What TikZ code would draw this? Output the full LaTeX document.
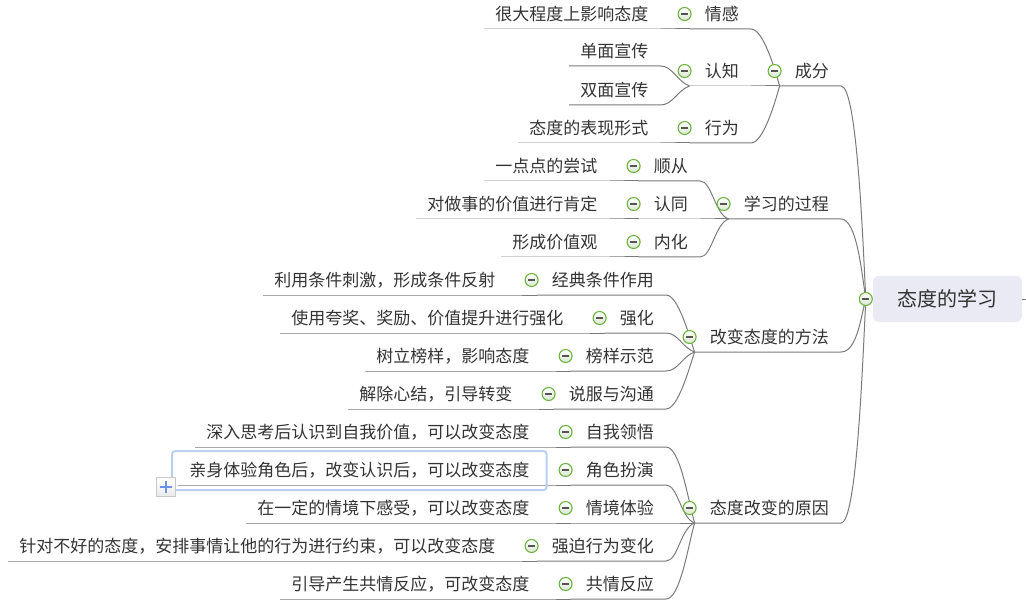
\documentclass[tikz,border=0pt]{standalone}
\usepackage{fontspec}
\newfontfamily\cjk{Noto Sans CJK SC}
\usetikzlibrary{calc}
\definecolor{txtc}{HTML}{333333}
\definecolor{linec}{HTML}{7A7A7A}
\definecolor{icong}{HTML}{6DB33F}
\definecolor{iconfill}{HTML}{DCE8D2}
\definecolor{minusc}{HTML}{555555}
\definecolor{rootfill}{HTML}{E9EAF3}
\definecolor{selc}{HTML}{BACFF0}
\definecolor{plusc}{HTML}{6F90E8}
\definecolor{plusborder}{HTML}{C8C8C8}
\newcommand\mmtopic[3]{%
  \node[txt] (#1) at (#2) {#3};
  \coordinate (#1-e) at ($(#1.east)+(12,15)$);
  \coordinate (#1-j) at ($(#1.west)+(-15,15)$);
  \coordinate (#1-c) at ($(#1.west)+(-20,0)$);
}
\newcommand\mmleaf[3]{%
  \node[txt] (#1) at (#2) {#3};
  \coordinate (#1-e) at ($(#1.east)+(12,15)$);
  \coordinate (#1-s) at ($(#1.west)+(-11,15)$);
}
\begin{document}
\begin{tikzpicture}[x=1bp,y=-1bp,
  txt/.style={font=\cjk\fontsize{17bp}{20bp}\selectfont, text=txtc, inner sep=0pt,
    text height=15bp, text depth=2bp, anchor=east},
  roottxt/.style={font=\cjk\fontsize{20bp}{24bp}\selectfont, text=txtc, fill=rootfill,
    rounded corners=6bp, minimum width=149bp, minimum height=46bp, inner sep=0pt,
    text height=17.6bp, text depth=2.4bp},
  br/.style={draw=linec, line width=1bp},
  icon/.style={circle, minimum size=13bp, inner sep=0pt, draw=icong, line width=1.1bp,
    top color=white, bottom color=iconfill,
    path picture={\draw[minusc, line width=1.1bp]
      ($(path picture bounding box.center)+(-3.5,0)$) -- ($(path picture bounding box.center)+(3.5,0)$);}},
  sel/.style={draw=selc, line width=2bp, rounded corners=3bp},
  plusbox/.style={rectangle, minimum size=19bp, inner sep=0pt, draw=plusborder, line width=1bp,
    top color=white, bottom color=black!8,
    path picture={\draw[plusc, line width=2.2bp]
      ($(path picture bounding box.center)+(-6,0)$) -- ($(path picture bounding box.center)+(6,0)$)
      ($(path picture bounding box.center)+(0,-6)$) -- ($(path picture bounding box.center)+(0,6)$);}},
]
\useasboundingbox (0,0) rectangle (1026,609);

% root
\node[roottxt] (R) at (947.5,299) {态度的学习};
\coordinate (R-j) at ($(R.west)+(-7,0)$);
\coordinate (R-stub) at ($(R.east)+(4,0)$);

% level 1
\mmtopic{A}{829,71}{成分}
\mmtopic{B}{829,204}{学习的过程}
\mmtopic{C}{829,337}{改变态度的方法}
\mmtopic{D}{829,508}{态度改变的原因}

% level 2
\mmtopic{A1}{739,14}{情感}
\mmtopic{A2}{739,71}{认知}
\mmtopic{A3}{739,128}{行为}
\mmtopic{B1}{688,166}{顺从}
\mmtopic{B2}{688,204}{认同}
\mmtopic{B3}{688,242}{内化}
\mmtopic{C1}{654,280}{经典条件作用}
\mmtopic{C2}{654,318}{强化}
\mmtopic{C3}{654,356}{榜样示范}
\mmtopic{C4}{654,394}{说服与沟通}
\mmtopic{D1}{654,432}{自我领悟}
\mmtopic{D2}{654,470}{角色扮演}
\mmtopic{D3}{654,508}{情境体验}
\mmtopic{D4}{654,546}{强迫行为变化}
\mmtopic{D5}{654,584}{共情反应}

% leaves
\mmleaf{A1L}{$(A1.west)+(-56,0)$}{很大程度上影响态度}
\mmleaf{A2La}{$(A2.west)+(-56,-20)$}{单面宣传}
\mmleaf{A2Lb}{$(A2.west)+(-56,19)$}{双面宣传}
\mmleaf{A3L}{$(A3.west)+(-56,0)$}{态度的表现形式}
\mmleaf{B1L}{$(B1.west)+(-56,0)$}{一点点的尝试}
\mmleaf{B2L}{$(B2.west)+(-56,0)$}{对做事的价值进行肯定}
\mmleaf{B3L}{$(B3.west)+(-56,0)$}{形成价值观}
\mmleaf{C1L}{$(C1.west)+(-56,0)$}{利用条件刺激，形成条件反射}
\mmleaf{C2L}{$(C2.west)+(-56,0)$}{使用夸奖、奖励、价值提升进行强化}
\mmleaf{C3L}{$(C3.west)+(-56,0)$}{树立榜样，影响态度}
\mmleaf{C4L}{$(C4.west)+(-56,0)$}{解除心结，引导转变}
\mmleaf{D1L}{$(D1.west)+(-56,0)$}{深入思考后认识到自我价值，可以改变态度}
\mmleaf{D2L}{$(D2.west)+(-56,0)$}{亲身体验角色后，改变认识后，可以改变态度}
\mmleaf{D3L}{$(D3.west)+(-56,0)$}{在一定的情境下感受，可以改变态度}
\mmleaf{D4L}{$(D4.west)+(-56,0)$}{针对不好的态度，安排事情让他的行为进行约束，可以改变态度}
\mmleaf{D5L}{$(D5.west)+(-56,0)$}{引导产生共情反应，可改变态度}

% connectors: root
\draw[br] (R.east) -- (R-stub);
\draw[br] (A-j) -- (A-e) .. controls +(16,0) and +(-3,-60) .. (R-j);
\draw[br] (B-j) -- (B-e) .. controls +(16,0) and +(-4,-25) .. (R-j);
\draw[br] (C-j) -- (C-e) .. controls +(16,0) and +(-5,18) .. (R-j);
\draw[br] (D-j) -- (D-e) .. controls +(16,0) and +(-3,60) .. (R-j);

% A
\draw[br] (A1-j) -- (A1-e) .. controls +(12,0) and +(-5,-18) .. (A-j);
\draw[br] (A2-j) -- (A2-e) -- (A-j);
\draw[br] (A3-j) -- (A3-e) .. controls +(12,0) and +(-5,18) .. (A-j);
\draw[br] (A1L-s) -- (A1L-e) -- (A1-j);
\draw[br] (A2La-s) -- (A2La-e) .. controls +(12,0) and +(-12,-4) .. (A2-j);
\draw[br] (A2Lb-s) -- (A2Lb-e) .. controls +(12,0) and +(-12,4) .. (A2-j);
\draw[br] (A3L-s) -- (A3L-e) -- (A3-j);

% B
\draw[br] (B1-j) -- (B1-e) .. controls +(12,0) and +(-14,-5) .. (B-j);
\draw[br] (B2-j) -- (B2-e) -- (B-j);
\draw[br] (B3-j) -- (B3-e) .. controls +(12,0) and +(-14,5) .. (B-j);
\draw[br] (B1L-s) -- (B1L-e) -- (B1-j);
\draw[br] (B2L-s) -- (B2L-e) -- (B2-j);
\draw[br] (B3L-s) -- (B3L-e) -- (B3-j);

% C
\draw[br] (C1-j) -- (C1-e) .. controls +(12,0) and +(-6,-18) .. (C-j);
\draw[br] (C2-j) -- (C2-e) .. controls +(12,0) and +(-12,-4) .. (C-j);
\draw[br] (C3-j) -- (C3-e) .. controls +(12,0) and +(-12,4) .. (C-j);
\draw[br] (C4-j) -- (C4-e) .. controls +(12,0) and +(-6,18) .. (C-j);
\draw[br] (C1L-s) -- (C1L-e) -- (C1-j);
\draw[br] (C2L-s) -- (C2L-e) -- (C2-j);
\draw[br] (C3L-s) -- (C3L-e) -- (C3-j);
\draw[br] (C4L-s) -- (C4L-e) -- (C4-j);

% D
\draw[br] (D1-j) -- (D1-e) .. controls +(14,0) and +(-7,-25) .. (D-j);
\draw[br] (D2-j) -- (D2-e) .. controls +(12,0) and +(-14,-5) .. (D-j);
\draw[br] (D3-j) -- (D3-e) -- (D-j);
\draw[br] (D4-j) -- (D4-e) .. controls +(12,0) and +(-14,5) .. (D-j);
\draw[br] (D5-j) -- (D5-e) .. controls +(14,0) and +(-7,25) .. (D-j);
\draw[br] (D1L-s) -- (D1L-e) -- (D1-j);
\draw[br] (D2L-s) -- (D2L-e) -- (D2-j);
\draw[br] (D3L-s) -- (D3L-e) -- (D3-j);
\draw[br] (D4L-s) -- (D4L-e) -- (D4-j);
\draw[br] (D5L-s) -- (D5L-e) -- (D5-j);

% collapse icons
\node[icon] (R-i) at (R-j) {};
\foreach \n in {A,B,C,D,A1,A2,A3,B1,B2,B3,C1,C2,C3,C4,D1,D2,D3,D4,D5}
  \node[icon] (\n-i) at (\n-c) {};

% selection frame and plus button
\draw[sel] ($(D2L.west)+(-17,-19)$) rectangle ($(D2L.east)+(17,20)$);
\node[plusbox] (plus) at ($(D2L.west)+(-23.5,17)$) {};
\end{tikzpicture}
\end{document}
